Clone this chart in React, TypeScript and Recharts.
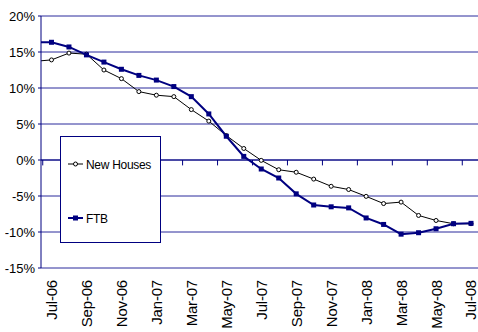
import React from 'react';
import { LineChart, Line, XAxis, YAxis, CartesianGrid, ReferenceLine, Legend } from 'recharts';

// Monthly annual change (%), Jun-06 .. Jul-08
const months = [
  'Jun-06', 'Jul-06', 'Aug-06', 'Sep-06', 'Oct-06', 'Nov-06', 'Dec-06',
  'Jan-07', 'Feb-07', 'Mar-07', 'Apr-07', 'May-07', 'Jun-07', 'Jul-07',
  'Aug-07', 'Sep-07', 'Oct-07', 'Nov-07', 'Dec-07', 'Jan-08', 'Feb-08',
  'Mar-08', 'Apr-08', 'May-08', 'Jun-08', 'Jul-08',
];

const newHouses = [
  13.7, 13.9, 14.85, 14.7, 12.5, 11.3, 9.5, 9.0, 8.8, 7.0, 5.4, 3.4, 1.6,
  -0.05, -1.35, -1.7, -2.65, -3.65, -4.1, -5.05, -6.05, -5.85, -7.7, -8.4, -8.85, -8.85,
];

const ftb = [
  16.35, 16.35, 15.7, 14.6, 13.6, 12.6, 11.75, 11.1, 10.2, 8.8, 6.4, 3.3, 0.5,
  -1.25, -2.5, -4.7, -6.25, -6.5, -6.65, -8.05, -8.95, -10.3, -10.1, -9.55, -8.85, -8.8,
];

// every other month is labelled, starting at Jul-06
const xLabels = ['Jul-06', 'Sep-06', 'Nov-06', 'Jan-07', 'Mar-07', 'May-07', 'Jul-07',
  'Sep-07', 'Nov-07', 'Jan-08', 'Mar-08', 'May-08', 'Jul-08'];
const yTicks = [-15, -10, -5, 0, 5, 10, 15, 20];
const seriesOrder = ['newHouses', 'ftb'];

const NAVY = '#000080';
const GRID = '#2b2b9c';
const FONT = '"Liberation Sans", Arial, sans-serif';

const data = months.map((m, idx) => ({ idx, month: m, newHouses: newHouses[idx], ftb: ftb[idx] }));
const xTickIdx = xLabels.map((l) => months.indexOf(l));
// category axis tick marks sit half a month before each label
const axisMarks = xTickIdx.map((t) => t - 0.5);

const XTick = ({ x, payload }: any) => {
  // keep the last label inside the chart's right edge
  const bx = Math.min(x + 6, 475.5);
  const by = 280;
  return (
    <text
      x={bx}
      y={by}
      transform={`rotate(-90, ${bx}, ${by})`}
      textAnchor="end"
      fontSize={15}
      fontFamily={FONT}
      letterSpacing={-0.2}
      fill="#000"
    >
      {months[payload.value]}
    </text>
  );
};

const SquareDot = ({ cx, cy, index }: any) => (
  <rect key={`sq-${index}`} x={cx - 2.5} y={cy - 2.5} width={5} height={5} fill={NAVY} />
);

const LegendBox = ({ payload }: any) => {
  const items = [...(payload || [])].sort(
    (a: any, b: any) => seriesOrder.indexOf(a.dataKey) - seriesOrder.indexOf(b.dataKey),
  );
  return (
    <svg width={102} height={108} style={{ display: 'block' }}>
      <rect x={0.5} y={0.5} width={100} height={106} fill="#fff" stroke={NAVY} />
      {items.map((p: any, i: number) => {
        const y = 28 + i * 54;
        const isFtb = p.dataKey === 'ftb';
        return (
          <g key={p.value}>
            <line x1={8} x2={23} y1={y} y2={y} stroke={p.color} strokeWidth={isFtb ? 2 : 1} />
            {isFtb ? (
              <rect x={13} y={y - 2.5} width={5} height={5} fill={NAVY} />
            ) : (
              <circle cx={15.5} cy={y} r={2} fill="#fff" stroke="#000" />
            )}
            <text x={26} y={y + 4.5} fontSize={12} fontFamily={FONT} letterSpacing={-0.3} fill="#000">
              {p.value}
            </text>
          </g>
        );
      })}
    </svg>
  );
};

export default function App() {
  return (
    <div style={{ position: 'absolute', left: 0, top: 0, fontFamily: FONT, background: '#fff' }}>
      <LineChart width={478} height={332} data={data} margin={{ top: 16, right: 0, bottom: 0, left: 0 }}>
        <CartesianGrid vertical={false} stroke={GRID} strokeWidth={1} />
        <XAxis
          dataKey="idx"
          type="number"
          domain={[0.4, 25.4]}
          allowDataOverflow
          ticks={xTickIdx}
          interval={0}
          axisLine={false}
          tickLine={false}
          height={64}
          tick={<XTick />}
        />
        <YAxis
          type="number"
          domain={[-15, 20]}
          ticks={yTicks}
          interval={0}
          width={41}
          axisLine={{ stroke: NAVY }}
          tickLine={{ stroke: NAVY }}
          tickSize={3}
          tickMargin={3}
          tick={{ fontSize: 13, fill: '#000', fontFamily: FONT }}
          tickFormatter={(v: number) => `${v}%`}
        />
        <ReferenceLine y={0} stroke={NAVY} />
        {axisMarks.map((t) => (
          <ReferenceLine
            key={`m-${t}`}
            segment={[{ x: t, y: 0 }, { x: t, y: -0.75 }]}
            stroke={NAVY}
          />
        ))}
        <Line
          dataKey="newHouses"
          name="New Houses"
          stroke="#000"
          strokeWidth={1}
          dot={{ r: 2, fill: '#fff', stroke: '#000', strokeWidth: 1 }}
          isAnimationActive={false}
        />
        <Line
          dataKey="ftb"
          name="FTB"
          stroke={NAVY}
          strokeWidth={2}
          dot={<SquareDot />}
          isAnimationActive={false}
        />
        <Legend
          layout="vertical"
          align="center"
          verticalAlign="middle"
          content={<LegendBox />}
          wrapperStyle={{ left: 60, top: 136, width: 102, height: 108 }}
        />
      </LineChart>
    </div>
  );
}
